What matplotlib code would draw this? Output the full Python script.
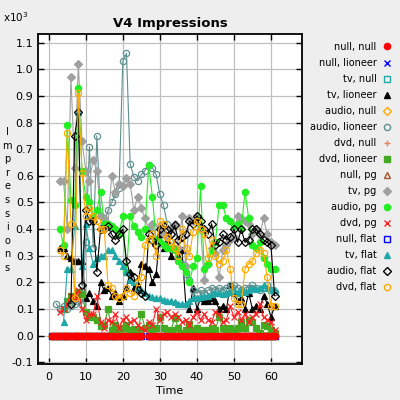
import numpy as np
import matplotlib
matplotlib.use("Agg")
import matplotlib.pyplot as plt
from matplotlib.lines import Line2D
from matplotlib.ticker import FormatStrFormatter, MultipleLocator

nan = np.nan

# time steps
time = list(range(1, 62))

# impressions (x10^3)
zero_row = [0, 0, 0, 0, 0, 0, 0, 0, 0, 0,
            0, 0, 0, 0, 0, 0, 0, 0, 0, 0,
            0, 0, 0, 0, 0, nan, 0, 0, 0, 0,
            0, 0, 0, 0, 0, 0, 0, 0, 0, 0,
            0, 0, 0, 0, 0, 0, 0, 0, 0, 0,
            0, 0, 0, 0, 0, 0, 0, 0, 0, 0,
            0]

tv_lioneer = [nan, nan, 0.33, 0.33, 0.30, 0.29, 0.28, 0.28, 0.28, 0.14,
              0.16, 0.13, 0.11, 0.20, 0.17, 0.18, 0.15, 0.16, 0.13, 0.15,
              0.18, 0.24, 0.18, 0.19, 0.27, 0.26, 0.25, 0.20, 0.23, 0.38,
              0.33, 0.36, 0.30, 0.33, 0.30, 0.32, 0.12, 0.10, 0.18, 0.10,
              0.14, 0.13, 0.13, 0.14, 0.13, 0.10, 0.11, 0.10, 0.19, 0.16,
              0.13, 0.14, 0.10, 0.16, 0.10, 0.11, 0.10, 0.15, 0.12, 0.07,
              0.11]

audio_lioneer = [nan, 0.12, 0.10, 0.11, 0.10, 0.11, 0.12, 0.13, 0.12, 0.35,
                 0.71, 0.33, 0.75, 0.45, 0.42, 0.47, 0.50, 0.53, 0.555, 1.03,
                 1.06, 0.645, 0.595, 0.58, 0.605, 0.62, 0.64, 0.63, 0.605, 0.53,
                 0.49, 0.42, 0.38, 0.34, 0.30, 0.27, 0.23, 0.21, 0.17, 0.16,
                 0.17, 0.16, 0.17, 0.18, 0.17, 0.18, 0.17, 0.18, 0.19, 0.19,
                 0.18, 0.17, 0.18, 0.18, 0.19, 0.18, 0.17, 0.18, 0.19, 0.17,
                 0.165]

dvd_lioneer = [nan, nan, nan, 0.10, 0.13, 0.15, 0.15, 0.165, 0.155, 0.09,
               0.07, 0.07, 0.06, 0.035, 0.04, 0.10, 0.02, 0.04, 0.02, 0.03,
               0.04, 0.02, 0.025, 0.02, 0.08, 0.03, 0.04, 0.02, 0.03, 0.07,
               0.03, 0.02, 0.02, 0.065, 0.03, 0.01, 0.02, 0.045, 0.02, 0.03,
               0.01, 0.02, 0.02, 0.03, 0.02, 0.07, 0.03, 0.01, 0.03, 0.02,
               0.03, 0.05, 0.03, 0.06, 0.05, 0.03, 0.01, 0.04, 0.035, 0.02,
               0.01]

tv_pg = [nan, nan, 0.58, 0.58, 0.40, 0.97, 0.63, 1.02, 0.73, 0.62,
         0.58, 0.66, 0.62, 0.45, 0.44, 0.42, 0.60, 0.54, 0.57, 0.56,
         0.59, 0.57, 0.47, 0.52, 0.48, 0.44, 0.40, 0.42, 0.36, 0.41,
         0.38, 0.37, 0.40, 0.42, 0.33, 0.45, 0.26, 0.44, 0.43, 0.45,
         0.40, 0.21, 0.27, 0.33, 0.31, 0.22, 0.32, 0.34, 0.36, 0.37,
         0.45, 0.44, 0.43, 0.42, 0.38, 0.40, 0.38, 0.44, 0.38, 0.35,
         0.34]

audio_pg = [nan, nan, 0.40, 0.34, 0.79, 0.51, 0.49, 0.93, 0.62, 0.52,
            0.50, 0.45, 0.47, 0.54, 0.42, 0.42, 0.41, 0.40, 0.38, 0.45,
            0.24, 0.45, 0.41, 0.39, 0.37, 0.40, 0.64, 0.52, 0.36, 0.35,
            0.34, 0.33, 0.33, 0.32, 0.28, 0.26, 0.24, 0.20, 0.26, 0.29,
            0.56, 0.25, 0.27, 0.32, 0.35, 0.49, 0.49, 0.44, 0.43, 0.41,
            0.42, 0.40, 0.54, 0.44, 0.34, 0.33, 0.35, 0.29, 0.27, 0.25,
            0.25]

dvd_pg = [nan, nan, 0.09, 0.10, 0.12, 0.15, 0.14, 0.17, 0.10, 0.06,
          0.08, 0.08, 0.15, 0.05, 0.03, 0.06, 0.05, 0.08, 0.03, 0.06,
          0.07, 0.05, 0.06, 0.04, 0.03, 0.02, 0.05, 0.04, 0.10, 0.06,
          0.08, 0.09, 0.07, 0.08, 0.07, 0.05, 0.06, 0.04, 0.07, 0.09,
          0.06, 0.08, 0.06, 0.05, 0.09, 0.08, 0.05, 0.06, 0.11, 0.07,
          0.09, 0.06, 0.08, 0.05, 0.07, 0.08, 0.12, 0.07, 0.06, 0.05,
          0.02]

tv_flat = [nan, nan, nan, 0.05, 0.25, 0.25, 0.41, 0.84, 0.26, 0.42,
           0.33, 0.27, 0.29, 0.30, 0.30, 0.32, 0.32, 0.30, 0.28, 0.26,
           0.24, 0.21, 0.20, 0.18, 0.17, 0.16, 0.15, 0.145, 0.14, 0.14,
           0.135, 0.13, 0.13, 0.125, 0.12, 0.12, 0.12, 0.13, 0.14, 0.14,
           0.145, 0.15, 0.15, 0.155, 0.16, 0.16, 0.155, 0.16, 0.165, 0.17,
           0.16, 0.17, 0.165, 0.17, 0.18, 0.175, 0.18, 0.19, 0.18, 0.17,
           0.17]

audio_flat = [nan, nan, nan, nan, nan, 0.12, 0.75, 0.84, 0.19, 0.47,
              0.43, 0.43, 0.24, 0.40, 0.40, 0.41, 0.38, 0.36, 0.38, 0.40,
              0.28, 0.23, 0.22, 0.17, 0.16, 0.15, 0.38, 0.36, 0.34, 0.40,
              0.41, 0.40, 0.38, 0.415, 0.36, 0.37, 0.38, 0.43, 0.42, 0.45,
              0.43, 0.40, 0.38, 0.42, 0.34, 0.35, 0.38, 0.36, 0.37, 0.40,
              0.35, 0.40, 0.35, 0.36, 0.40, 0.40, 0.38, 0.36, 0.35, 0.34,
              0.15]

dvd_flat = [nan, nan, 0.32, 0.30, 0.76, 0.42, 0.14, 0.91, 0.61, 0.45,
            0.48, 0.45, 0.43, 0.40, 0.40, 0.19, 0.18, 0.15, 0.14, 0.15,
            0.18, 0.16, 0.15, 0.20, 0.22, 0.34, 0.36, 0.38, 0.30, 0.43,
            0.42, 0.37, 0.35, 0.33, 0.30, 0.40, 0.33, 0.30, 0.39, 0.43,
            0.40, 0.38, 0.29, 0.36, 0.30, 0.27, 0.28, 0.32, 0.25, 0.14,
            0.12, 0.12, 0.25, 0.27, 0.28, 0.31, 0.32, 0.31, 0.22, 0.11,
            0.11]

labels = ["null, null", "null, lioneer", "tv, null", "tv, lioneer",
          "audio, null", "audio, lioneer", "dvd, null", "dvd, lioneer",
          "null, pg", "tv, pg", "audio, pg", "dvd, pg",
          "null, flat", "tv, flat", "audio, flat", "dvd, flat"]

series = [zero_row, zero_row, zero_row, tv_lioneer,
          zero_row, audio_lioneer, zero_row, dvd_lioneer,
          zero_row, tv_pg, audio_pg, dvd_pg,
          zero_row, tv_flat, audio_flat, dvd_flat]

# (color, marker, filled)
styles = [("#ff0000", "o", True), ("#0000ff", "x", True), ("#20a8a8", "s", False),
          ("#000000", "^", True), ("#ffaa00", "D", False), ("#5f8f8f", "o", False),
          ("#f08060", "+", True), ("#44aa22", "s", True), ("#a0522d", "^", False),
          ("#a0a0a0", "D", True), ("#22ee22", "o", True), ("#ff2020", "x", True),
          ("#0000ff", "s", False), ("#20a8a8", "^", True), ("#000000", "D", False),
          ("#ffaa00", "o", False)]

fig = plt.figure(figsize=(4, 4), dpi=100, facecolor="#eeeeee")
ax = fig.add_axes([0.094, 0.091, 0.662, 0.823])
ax.set_facecolor("white")

handles = []
for i, (vals, (col, mk, filled)) in enumerate(zip(series, styles)):
    ms = 3.6 if mk == "D" else 4.5
    fc = col if filled else "none"
    z = 3
    if vals is zero_row:
        z = 2
    if labels[i] == "null, null":
        z = 5
    ax.plot(time, vals, color=col, lw=0.8, marker=mk, ms=ms,
            markerfacecolor=fc, markeredgecolor=col, mew=0.9, zorder=z)
    handles.append(Line2D([], [], ls="none", marker=mk, ms=ms, color=col,
                          markerfacecolor=fc, markeredgecolor=col, mew=1))

ax.set_xlim(-3, 68.5)
ax.set_ylim(-0.105, 1.131)
ax.xaxis.set_major_locator(MultipleLocator(10))
ax.yaxis.set_major_locator(MultipleLocator(0.1))
ax.yaxis.set_major_formatter(FormatStrFormatter("%.1f"))
ax.grid(True, color="#c0c0c0", lw=0.9)
ax.set_axisbelow(True)
ax.tick_params(direction="in", length=4, top=True, right=True,
               labelsize=8, width=1, pad=3)
ax.tick_params(axis="x", pad=6)
for s in ax.spines.values():
    s.set_linewidth(1.3)

ax.set_title("V4 Impressions", fontsize=9.5, fontweight="bold", pad=5)
ax.set_xlabel("Time", fontsize=8, labelpad=3)
fig.text(0.018, 0.5, "\n".join("Impressions"), ha="center", va="center",
         fontsize=7, linespacing=1.45)
fig.text(0.008, 0.945, r"x10$^3$", fontsize=7.5)

fig.legend(handles, labels, loc="upper right", bbox_to_anchor=(0.99, 0.905),
           frameon=False, markerfirst=False, fontsize=7, handlelength=1.0,
           handletextpad=0.6, labelspacing=0.62, borderaxespad=0)

fig.savefig("out.png", dpi=100, facecolor=fig.get_facecolor())
